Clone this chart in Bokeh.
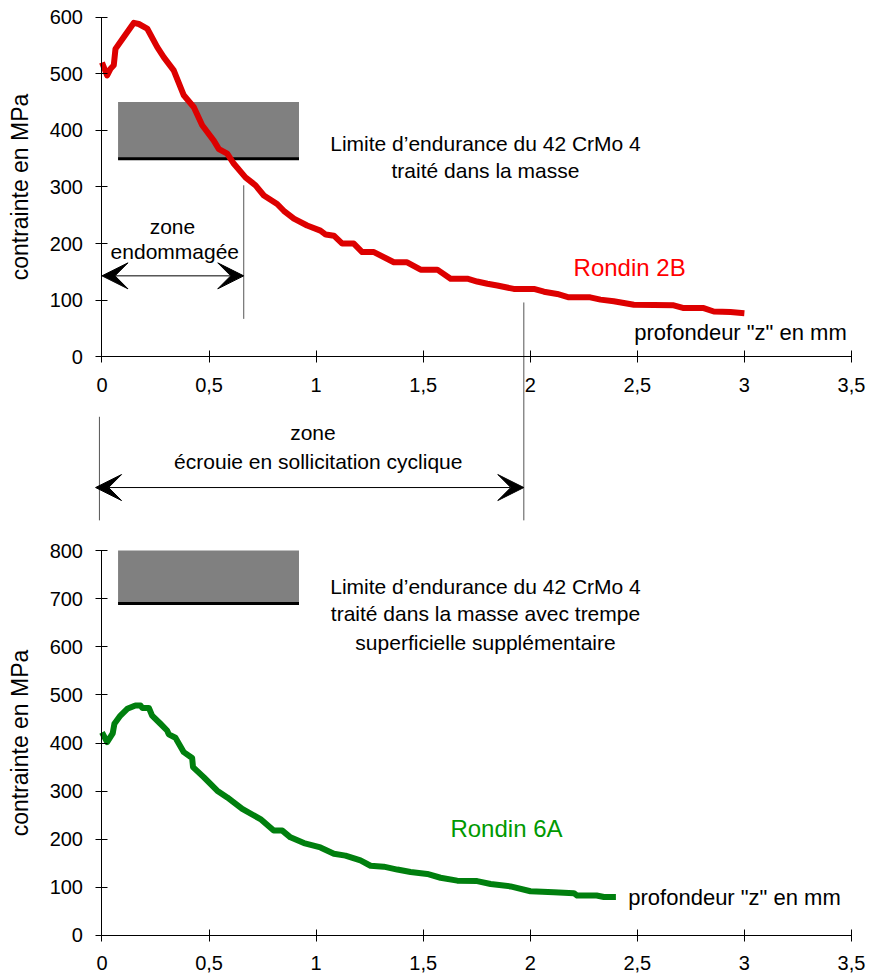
from bokeh.plotting import figure
from bokeh.layouts import column
from bokeh.models import Label, Arrow, VeeHead, Range1d, FixedTicker
from bokeh.embed import file_html
from bokeh.resources import INLINE

FONT = "Liberation Sans"

# Residual stress profiles: depth z (mm) -> stress (MPa)
z_2b = [0.0, 0.024, 0.04, 0.055, 0.063, 0.102, 0.149, 0.172, 0.211, 0.258, 0.289,
        0.335, 0.382, 0.429, 0.468, 0.522, 0.546, 0.585, 0.616, 0.670, 0.717,
        0.756, 0.818, 0.849, 0.896, 0.958, 1.02, 1.045, 1.083, 1.122, 1.176,
        1.215, 1.27, 1.363, 1.425, 1.488, 1.566, 1.628, 1.706, 1.752, 1.80,
        1.846, 1.923, 2.017, 2.064, 2.126, 2.18, 2.28, 2.328, 2.39, 2.484,
        2.67, 2.717, 2.81, 2.857, 2.935, 3.0]
s_2b = [520, 497, 509, 515, 544, 565, 590, 588, 580, 547, 529,
        506, 462, 441, 409, 382, 367, 359, 341, 317, 303,
        285, 270, 258, 244, 232, 223, 216, 214, 200, 200,
        185, 185, 167, 167, 154, 154, 138, 138, 133, 129,
        126, 120, 120, 115, 111, 105, 105, 101, 98, 92,
        91, 86, 86, 80, 79, 77]

z_6a = [0.0, 0.024, 0.05, 0.058, 0.086, 0.118, 0.156, 0.18, 0.188, 0.219, 0.234,
        0.273, 0.304, 0.312, 0.343, 0.382, 0.421, 0.425, 0.475, 0.538, 0.585,
        0.655, 0.74, 0.802, 0.842, 0.88, 0.943, 1.02, 1.083, 1.137, 1.207,
        1.254, 1.316, 1.379, 1.441, 1.519, 1.581, 1.659, 1.752, 1.815, 1.908,
        2.001, 2.11, 2.204, 2.219, 2.31, 2.344, 2.4]
s_6a = [422, 402, 420, 440, 457, 471, 478, 478, 473, 473, 457,
        440, 426, 418, 411, 381, 369, 350, 329, 301, 287,
        263, 242, 218, 218, 204, 192, 183, 170, 166, 156,
        145, 143, 137, 132, 128, 120, 114, 113, 107, 102,
        92, 90, 88, 83, 83, 80, 80]

x_ticks = [0, 0.5, 1, 1.5, 2, 2.5, 3, 3.5]
x_tick_labels = ["0", "0,5", "1", "1,5", "2", "2,5", "3", "3,5"]
y_ticks_top = [0, 100, 200, 300, 400, 500, 600]
y_ticks_bottom = [0, 100, 200, 300, 400, 500, 600, 700, 800]

# Endurance limit bands of 42 CrMo 4 (MPa) and their horizontal extent (mm)
limit_2b = (350, 450)
limit_6a = (690, 800)
band_z = (0.075, 0.92)

# Zone limits (mm)
damaged_depth = 0.662
hardened_depth = 1.97

RED_LINE = "#dd0000"
GREEN_LINE = "#007f0e"

X_RANGE = (-0.474, 3.589)


def style_axes(p, y_ticks, y_top):
    p.grid.visible = False
    p.outline_line_color = None
    for ax in (p.xaxis[0], p.yaxis[0]):
        ax.fixed_location = 0
        ax.axis_line_color = "black"
        ax.axis_line_width = 1
        ax.major_tick_line_color = "black"
        ax.major_tick_in = 6
        ax.major_tick_out = 6
        ax.minor_tick_line_color = None
        ax.major_label_text_font = FONT
        ax.major_label_text_font_size = "20px"
        ax.major_label_text_color = "black"
    p.xaxis.bounds = (0, 3.5)
    p.xaxis.ticker = FixedTicker(ticks=x_ticks)
    p.xaxis.major_label_overrides = {float(t): s for t, s in zip(x_ticks, x_tick_labels)}
    p.xaxis.major_label_standoff = 15
    p.yaxis.bounds = (0, y_top)
    p.yaxis.ticker = FixedTicker(ticks=y_ticks)
    p.yaxis.major_label_standoff = 13
    p.yaxis.axis_label = "contrainte en MPa"
    p.yaxis.axis_label_text_font = FONT
    p.yaxis.axis_label_text_font_style = "normal"
    p.yaxis.axis_label_text_font_size = "23px"
    p.yaxis.axis_label_text_color = "black"
    p.yaxis.axis_label_standoff = 13


def text(p, x, y, s, size="21px", color="black", align="center"):
    p.add_layout(Label(x=x, y=y, text=s, text_align=align, text_baseline="alphabetic",
                       text_font=FONT, text_font_size=size, text_color=color))


def double_arrow(p, x0, x1, y):
    p.add_layout(Arrow(start=VeeHead(size=26, fill_color="black", line_color="black"),
                       end=VeeHead(size=26, fill_color="black", line_color="black"),
                       x_start=x0, y_start=y, x_end=x1, y_end=y,
                       line_color="black", line_width=1))


def make_figure(height, y_range):
    return figure(width=875, height=height, x_range=Range1d(*X_RANGE),
                  y_range=Range1d(*y_range), output_backend="svg", toolbar_location=None,
                  min_border_left=0, min_border_right=5, min_border_top=0, min_border_bottom=0,
                  background_fill_color="white", border_fill_color="white")


# ---------- upper chart: Rondin 2B ----------
top = make_figure(530, (-306.9, 629.5))
style_axes(top, y_ticks_top, 600)

top.quad(left=band_z[0], right=band_z[1], bottom=limit_2b[0], top=limit_2b[1],
         fill_color="#808080", line_color=None)
top.segment(x0=band_z[0], y0=limit_2b[0], x1=band_z[1], y1=limit_2b[0],
            line_color="black", line_width=3)

# damaged zone marker
top.segment(x0=damaged_depth, y0=67, x1=damaged_depth, y1=303, line_color="#555555", line_width=1)
double_arrow(top, 0.0, damaged_depth, 143)

# work-hardened zone marker (below the axis)
top.segment(x0=hardened_depth, y0=-289, x1=hardened_depth, y1=96, line_color="#555555", line_width=1)
top.segment(x0=-0.012, y0=-289, x1=-0.012, y1=-106, line_color="#555555", line_width=1)
double_arrow(top, -0.03, hardened_depth, -231)

top.line(z_2b, s_2b, line_color=RED_LINE, line_width=6, line_join="round")

text(top, 1.791, 376.4, "Limite d\u2019endurance du 42 CrMo 4")
text(top, 1.791, 329.2, "traité dans la masse")
text(top, 0.329, 229.7, "zone")
text(top, 0.34, 186.0, "endommagée")
text(top, 2.464, 158.3, "Rondin 2B", size="24px", color="#ff0000")
text(top, 2.982, 42.9, "profondeur \"z\" en mm", size="22px")
text(top, 0.985, -133.0, "zone")
text(top, 1.01, -184.4, "écrouie en sollicitation cyclique")

# ---------- lower chart: Rondin 6A ----------
bottom = make_figure(446, (-85.2, 841.6))
style_axes(bottom, y_ticks_bottom, 800)

bottom.quad(left=band_z[0], right=band_z[1], bottom=limit_6a[0], top=limit_6a[1],
            fill_color="#808080", line_color=None)
bottom.segment(x0=band_z[0], y0=limit_6a[0], x1=band_z[1], y1=limit_6a[0],
               line_color="black", line_width=3)

bottom.line(z_6a, s_6a, line_color=GREEN_LINE, line_width=6, line_join="round")

text(bottom, 1.791, 726.2, "Limite d\u2019endurance du 42 CrMo 4")
text(bottom, 1.791, 669.1, "traité dans la masse avec trempe")
text(bottom, 1.791, 609.8, "superficielle supplémentaire")
text(bottom, 1.889, 222.3, "Rondin 6A", size="24px", color="#009900")
text(bottom, 2.954, 78.9, "profondeur \"z\" en mm", size="22px")

layout = column(top, bottom, spacing=0)
open("out.html", "w").write(file_html(layout, INLINE))
